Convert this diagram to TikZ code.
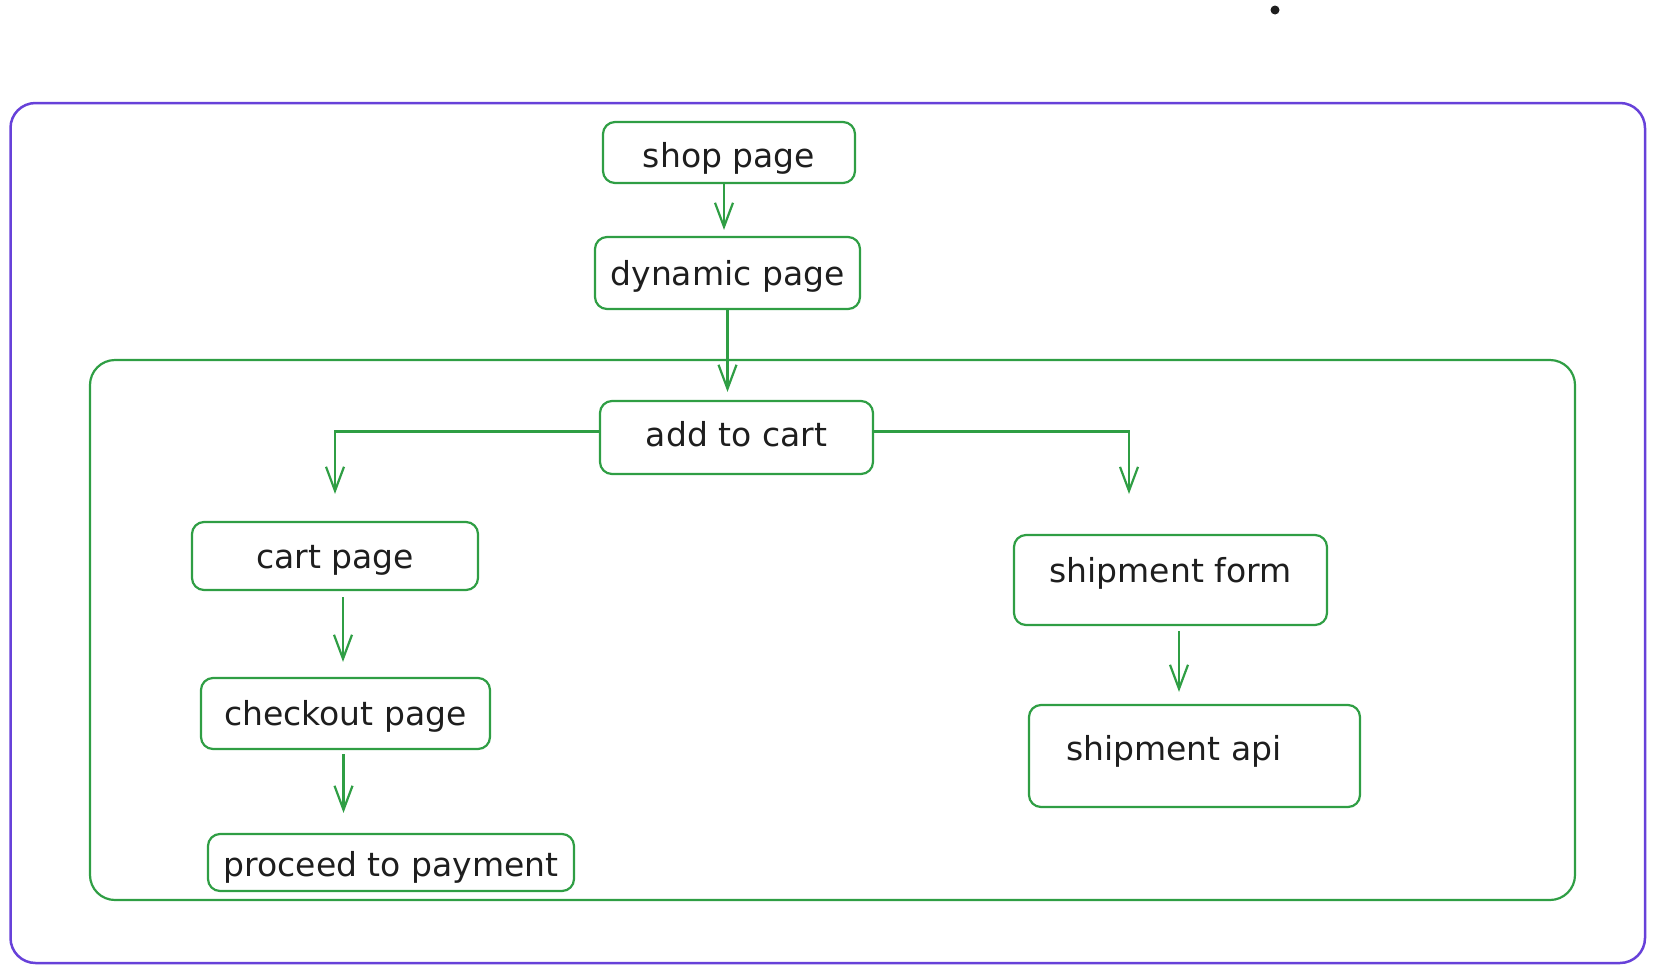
\documentclass[tikz,border=0pt]{standalone}
\usepackage{fontspec}
\setmainfont{DejaVu Sans}
\usetikzlibrary{arrows.meta}
\definecolor{grn}{HTML}{2F9E44}
\definecolor{vio}{HTML}{6741D9}
\definecolor{ink}{HTML}{1E1E1E}
\begin{document}
\begin{tikzpicture}[x=1pt,y=-1pt,
  box/.style={draw=grn, line width=2.2pt, rounded corners=12pt, text=ink,
    font=\fontsize{33}{38}\selectfont, inner sep=0pt, text depth=7pt},
  flow/.style={draw=grn, line width=2.2pt,
    -{Straight Barb[length=24pt,width=18pt,line width=2.2pt]}},
  frame/.style={rounded corners=25pt, inner sep=0pt},
]
\useasboundingbox (0,0) rectangle (1655,970);
% containers
\node[frame, draw=vio, line width=2.5pt, minimum width=1634.5pt, minimum height=860pt] (outer) at (827.75,533) {};
\node[frame, draw=grn, line width=2.2pt, minimum width=1485pt, minimum height=540pt] (inner) at (832.5,630) {};
\node[circle, fill=ink, minimum size=9pt, inner sep=0pt] (dot) at (1275,10) {};
% boxes
\node[box, minimum width=252pt, minimum height=61pt, text height=36pt] (shop) at (729,152.5) {shop page};
\node[box, minimum width=265pt, minimum height=72pt, text height=32pt] (dyn) at (727.5,273) {dynamic page};
\node[box, minimum width=273pt, minimum height=73pt, text height=25pt] (add) at (736.5,437.5) {add to cart};
\node[box, minimum width=286pt, minimum height=68pt, text height=32pt] (cart) at (335,556) {cart page};
\node[box, minimum width=289pt, minimum height=71pt, text height=30pt] (checkout) at (345.5,713.5) {checkout page};
\node[box, minimum width=366pt, minimum height=57pt, text height=34pt] (proceed) at (391,862.5) {proceed to payment};
\node[box, minimum width=313pt, minimum height=90pt, text height=12pt] (form) at (1170.5,580) {shipment form};
\node[box, minimum width=331pt, minimum height=102pt, text width=257pt, align=left, text height=24pt, text depth=16pt] (api) at (1194.5,756) {shipment api};
% connectors
\coordinate (rt) at (1129,494);
\draw[flow, shorten >=6pt] ([xshift=-5pt]shop.south) -- ([xshift=-5pt]shop.south |- dyn.north);
\draw[flow, shorten >=8pt] (dyn.south) -- (dyn.south |- add.north);
\draw[flow, shorten >=27pt] ([yshift=6pt]add.west) -| (cart.north);
\draw[flow] ([yshift=6pt]add.east) -| (rt);
\draw[flow, shorten <=6pt, shorten >=15pt] ([xshift=8pt]cart.south) -- ([xshift=8pt]cart.south |- checkout.north);
\draw[flow, shorten <=4pt, shorten >=20pt] ([xshift=-2pt]checkout.south) -- ([xshift=-2pt]checkout.south |- proceed.north);
\draw[flow, shorten <=5pt, shorten >=12pt] ([xshift=8.5pt]form.south) -- ([xshift=8.5pt]form.south |- api.north);
\end{tikzpicture}
\end{document}
